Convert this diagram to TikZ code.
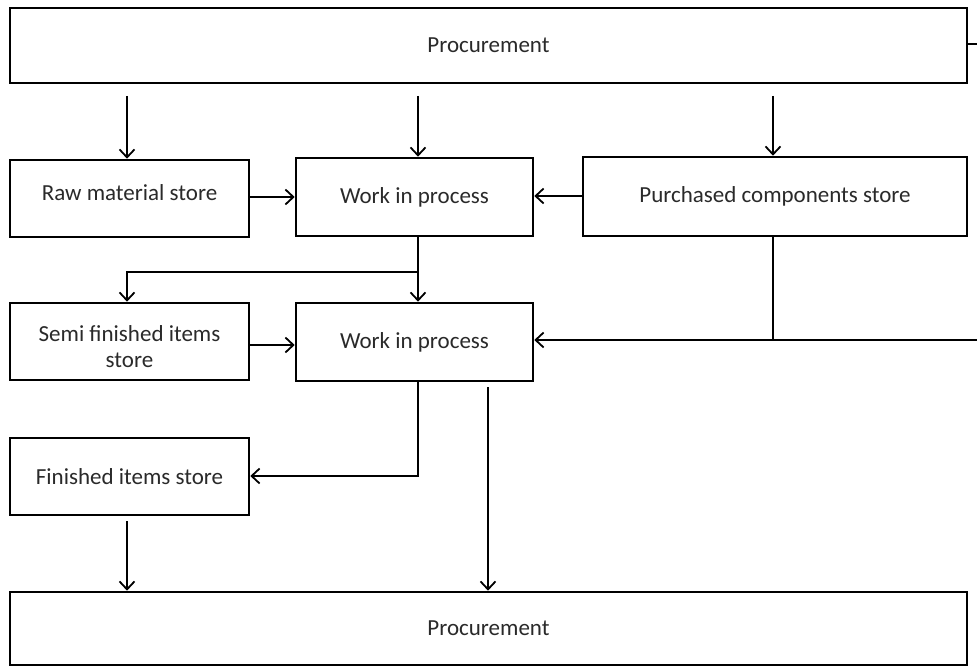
\documentclass[tikz,border=0pt]{standalone}
\usepackage{fontspec}
\setmainfont{Carlito}
\usetikzlibrary{arrows.meta}
\definecolor{textgray}{HTML}{2A2A2A}
\tikzset{
  box/.style={draw=black, line width=2.6pt, fill=white, inner sep=0pt,
    text=textgray, font=\fontsize{23}{27}\selectfont, align=center},
  conn/.style={draw=black, line width=1.8pt},
  arr/.style={conn, -{Straight Barb[length=8pt,width=15pt,line width=1.8pt]}}
}
\begin{document}
\begin{tikzpicture}[x=1pt,y=-1pt]
\useasboundingbox (0,0) rectangle (977,668);

% boxes
\node[box, minimum width=957, minimum height=75] (top) at (488.5,45.5) {Procurement};
\node[box, minimum width=239, minimum height=77] (raw) at (129.5,198.5) {\raisebox{-2pt}[0pt][0pt]{Raw material store}};
\node[box, minimum width=237, minimum height=78] (wip1) at (414.5,197) {Work in process};
\node[box, minimum width=384, minimum height=79] (pcs) at (775,196.5) {Purchased components store};
\node[box, minimum width=239, minimum height=77] (semi) at (129.5,341.5) {\raisebox{-14pt}[0pt][0pt]{\begin{tabular}{@{}c@{}}Semi finished items\\[-1pt]store\end{tabular}}};
\node[box, minimum width=237, minimum height=78] (wip2) at (414.5,342) {Work in process};
\node[box, minimum width=239, minimum height=77] (fin) at (129.5,476.5) {Finished items store};
\node[box, minimum width=957, minimum height=73] (bot) at (488.5,628.5) {Procurement};

% free ends and junctions
\coordinate (p1) at (127,96);
\coordinate (p2) at (418,96);
\coordinate (p3) at (773,96);
\coordinate (e1) at (977,44);
\coordinate (e2) at (977,340);
\coordinate (j1) at (418,272);
\coordinate (j2) at (773,340);
\coordinate (j3) at (418,476);
\coordinate (f1) at (127,521);
\coordinate (w1) at (488,387);

% from procurement to stores
\draw[arr] (p1) -- (raw.north -| p1);
\draw[arr] (p2) -- (wip1.north -| p2);
\draw[arr] (p3) -- (pcs.north -| p3);
\draw[conn] (top.east |- e1) -- (e1);

% into first work in process
\draw[arr] (raw.east |- 0,197) -- (wip1.west |- 0,197);
\draw[arr] (pcs.west |- 0,196) -- (wip1.east |- 0,196);

% first work in process onwards
\draw[conn] (wip1.south -| j1) -- (j1);
\draw[arr] (j1) -- (wip2.north -| j1);
\draw[arr] (j1) -| (semi.north -| 127,0);

% into second work in process
\draw[arr] (semi.east |- 0,345) -- (wip2.west |- 0,345);
\draw[conn] (pcs.south -| j2) -- (j2);
\draw[arr] (e2) -- (wip2.east |- e2);

% second work in process onwards
\draw[arr] (wip2.south -| j3) |- (fin.east |- j3);
\draw[arr] (w1) -- (bot.north -| w1);
\draw[arr] (f1) -- (bot.north -| f1);
\end{tikzpicture}
\end{document}
